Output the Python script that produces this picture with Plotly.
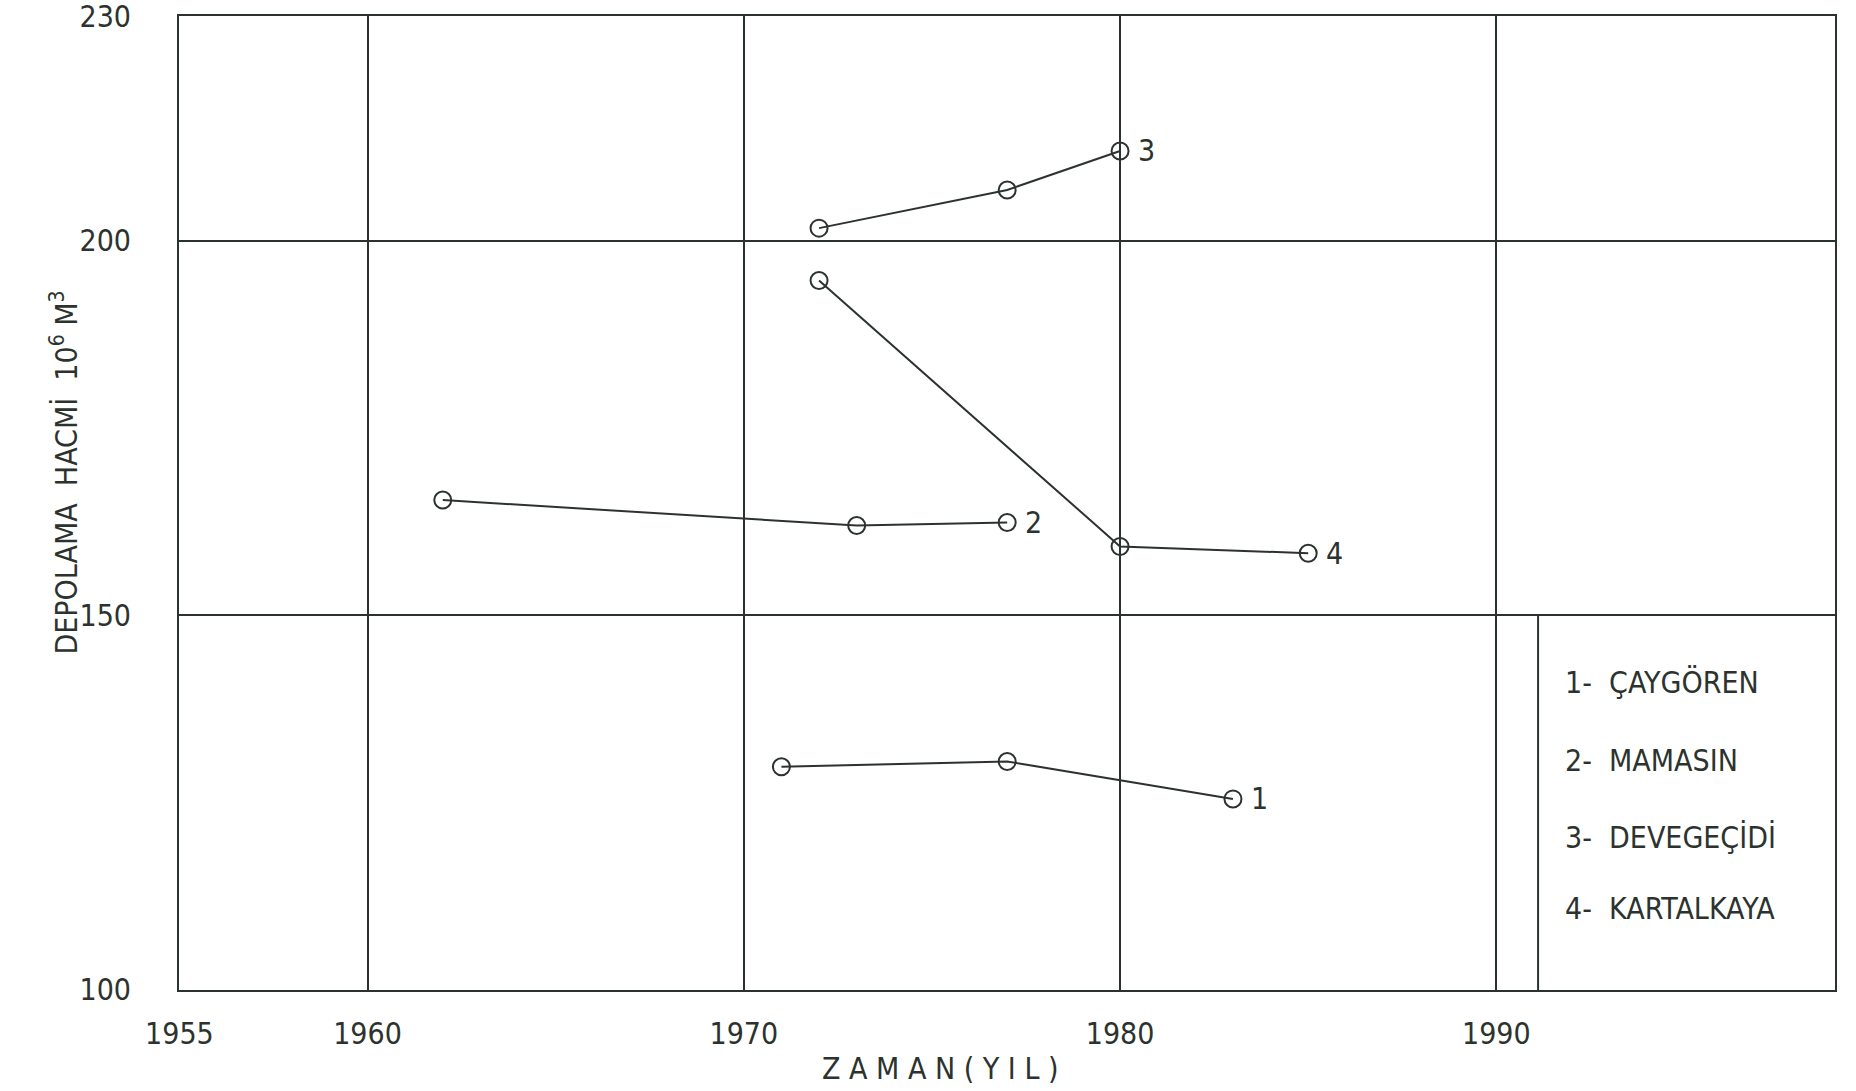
import plotly.graph_objects as go

# Reservoir storage volume over time (10^6 m^3)
names = ["ÇAYGÖREN", "MAMASIN", "DEVEGEÇİDİ", "KARTALKAYA"]

years_caygoren = [1971, 1977, 1983]
volume_caygoren = [129.8, 130.5, 125.5]

years_mamasin = [1962, 1973, 1977]
volume_mamasin = [165.4, 162.0, 162.4]

years_devegecidi = [1972, 1977, 1980]
volume_devegecidi = [201.7, 206.8, 212.0]

years_kartalkaya = [1972, 1980, 1985]
volume_kartalkaya = [194.7, 159.2, 158.3]

x_ticks = [1955, 1960, 1970, 1980, 1990]
y_ticks = [100, 150, 200, 230]

series = [
    (years_caygoren, volume_caygoren),
    (years_mamasin, volume_mamasin),
    (years_devegecidi, volume_devegecidi),
    (years_kartalkaya, volume_kartalkaya),
]

INK = "#2c332e"
FONT = "Liberation Sans Narrow, DejaVu Sans Condensed, Roboto Condensed, Liberation Sans, sans-serif"

fig = go.Figure()
annotations = []

for i, (xs, ys) in enumerate(series):
    fig.add_trace(go.Scatter(
        x=xs, y=ys, mode="lines+markers", name=names[i],
        line=dict(color=INK, width=2),
        marker=dict(symbol="circle-open", size=17, color=INK, line=dict(width=2, color=INK)),
        showlegend=False,
    ))
    # series number next to the last point
    annotations.append(dict(
        x=xs[-1], y=ys[-1], xref="x", yref="y", text=str(i + 1),
        showarrow=False, xanchor="left", yanchor="middle", xshift=16,
        font=dict(family=FONT, size=30, color=INK),
    ))

# text legend inside the lower-right box
legend_y = [0.316, 0.236, 0.157, 0.084]
for i, name in enumerate(names):
    annotations.append(dict(
        x=0.8357, y=legend_y[i], xref="paper", yref="paper",
        text=f"{i + 1}-  {name}", showarrow=False,
        xanchor="left", yanchor="middle",
        font=dict(family=FONT, size=30, color=INK),
    ))

# axis titles
annotations.append(dict(
    x=0.46, y=-0.081, xref="paper", yref="paper", text="Z A M A N ( Y I L )",
    showarrow=False, xanchor="center", yanchor="middle",
    font=dict(family=FONT, size=30, color=INK),
))
annotations.append(dict(
    x=-0.069, y=0.531, xref="paper", yref="paper",
    text="DEPOLAMA  HACMİ  10<sup>6</sup> M<sup>3</sup>",
    showarrow=False, textangle=-90, xanchor="center", yanchor="middle",
    font=dict(family=FONT, size=30, color=INK),
))

shapes = [
    # left border of the legend box
    dict(type="line", xref="paper", yref="y", x0=0.8207, x1=0.8207, y0=100, y1=150,
         line=dict(color=INK, width=2)),
]

axis_common = dict(
    showline=True, linecolor=INK, linewidth=2, mirror=True,
    showgrid=True, gridcolor=INK, gridwidth=2,
    ticks="", zeroline=False, ticklabeloverflow="allow", automargin=False,
    tickfont=dict(family=FONT, size=30, color=INK),
)

fig.update_layout(
    width=1856, height=1091,
    margin=dict(l=179, r=21, t=16, b=101),
    paper_bgcolor="white", plot_bgcolor="white",
    xaxis=dict(range=[1954.99, 1999], tickvals=x_ticks, ticklabelstandoff=16, **axis_common),
    yaxis=dict(range=[99.99, 230.02], tickvals=y_ticks, ticklabelstandoff=40, **axis_common),
    annotations=annotations,
    shapes=shapes,
)

fig.write_html("out.html")
